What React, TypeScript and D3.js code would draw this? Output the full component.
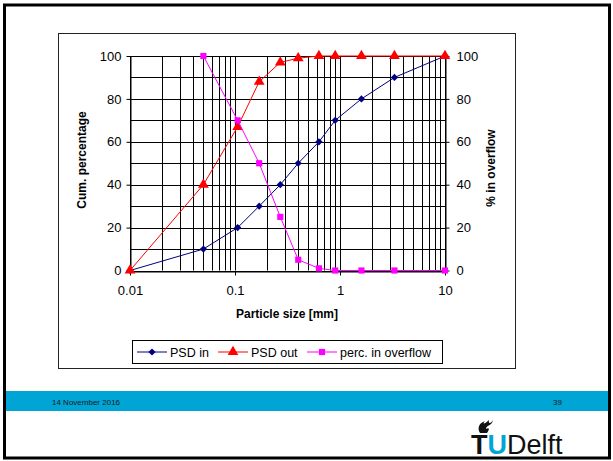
import * as d3 from 'd3';
import React, { useEffect, useRef } from 'react';

// Particle sizes [mm] and the three measured series
const sizes = [0.01, 0.05, 0.106, 0.17, 0.27, 0.4, 0.63, 0.9, 1.6, 3.3, 10];
const psdIn = [0, 10, 20, 30, 40, 50, 60, 70, 80, 90, 100];
const psdOut = [0, 40, 67, 88, 97, 99, 100, 100, 100, 100, 100];
const overflow: (number | null)[] = [null, 100, 70, 50, 25, 5, 1, 0, 0, 0, 0];

const xTicks = [0.01, 0.1, 1, 10];
const yTicks = [0, 20, 40, 60, 80, 100];

const seriesNames = ['PSD in', 'PSD out', 'perc. in overflow'];

const FONT = 'Liberation Sans, Arial, sans-serif';

const App: React.FC = () => {
  const ref = useRef<SVGSVGElement>(null);

  useEffect(() => {
    if (!ref.current) return;
    const root = d3.select(ref.current);
    root.selectAll('*').remove();

    // slide frame
    root.append('rect')
      .attr('x', 4.5).attr('y', 5).attr('width', 605).attr('height', 453)
      .attr('fill', 'white').attr('stroke', '#000').attr('stroke-width', 3);

    // chart area frame
    root.append('rect')
      .attr('x', 58.5).attr('y', 33.5).attr('width', 457).attr('height', 335)
      .attr('fill', 'white').attr('stroke', '#222').attr('stroke-width', 1);

    // footer band
    root.append('rect')
      .attr('x', 6).attr('y', 391).attr('width', 602).attr('height', 20)
      .attr('fill', '#00a5d5');
    root.append('text')
      .attr('x', 52).attr('y', 404.5)
      .style('font', `8px ${FONT}`).attr('fill', '#1a1a1a')
      .text('14 November 2016');
    root.append('text')
      .attr('x', 562).attr('y', 404.5).attr('text-anchor', 'end')
      .style('font', `8px ${FONT}`).attr('fill', '#1a1a1a')
      .text('39');

    // logo
    const logo = root.append('text')
      .attr('x', 471).attr('y', 454)
      .style('font-family', FONT).style('font-size', '27px');
    logo.append('tspan').attr('font-weight', 'bold').attr('fill', '#111').text('T');
    logo.append('tspan').attr('font-weight', 'bold').attr('fill', '#00a6d6').text('U');
    logo.append('tspan').attr('fill', '#111').text('Delft');
    root.append('path')
      .attr('d', 'M480,433 C477,428 479,423 485,421 C482,424 484,425 489,420 C488,424 491,424 493,420 C492,426 486,425 486,429 C489,427 490,429 487,433 Z')
      .attr('fill', '#111');

    // plot
    const x = d3.scaleLog().domain([0.01, 10]).range([130, 445]);
    const y = d3.scaleLinear().domain([0, 100]).range([270.5, 56]);

    const g = root.append('g');

    // grid: every log tick vertically, every 10% horizontally
    const vTicks = x.ticks();
    g.selectAll('.vgrid').data(vTicks).enter().append('line')
      .attr('x1', d => Math.round(x(d)) + 0.5).attr('x2', d => Math.round(x(d)) + 0.5)
      .attr('y1', y(0)).attr('y2', y(100))
      .attr('stroke', '#000').attr('stroke-width', 1);
    g.selectAll('.hgrid').data(d3.range(0, 101, 10)).enter().append('line')
      .attr('x1', x(0.01)).attr('x2', x(10))
      .attr('y1', d => Math.round(y(d)) + 0.5).attr('y2', d => Math.round(y(d)) + 0.5)
      .attr('stroke', '#000').attr('stroke-width', 1);

    const styleAxis = (sel: d3.Selection<SVGGElement, unknown, null, undefined>) => {
      sel.selectAll('text').style('fill', '#000').style('font', `13px ${FONT}`);
      sel.selectAll('line').attr('stroke', '#000');
      sel.select('.domain').attr('stroke', '#000');
    };

    g.append('g')
      .attr('transform', `translate(0,${Math.round(y(0)) + 0.5})`)
      .call(d3.axisBottom(x).tickValues(xTicks).tickFormat(d => `${d}`).tickSize(4).tickSizeOuter(0).tickPadding(10))
      .call(styleAxis);

    g.append('g')
      .attr('transform', `translate(${Math.round(x(0.01)) + 0.5},0)`)
      .call(d3.axisLeft(y).tickValues(yTicks).tickSize(4).tickSizeOuter(0).tickPadding(5))
      .call(styleAxis);

    g.append('g')
      .attr('transform', `translate(${Math.round(x(10)) + 0.5},0)`)
      .call(d3.axisRight(y).tickValues(yTicks).tickSize(4).tickSizeOuter(0).tickPadding(7))
      .call(styleAxis);

    // axis titles
    g.append('text')
      .attr('x', 287).attr('y', 318).attr('text-anchor', 'middle')
      .style('font', `bold 12px ${FONT}`).text('Particle size [mm]');
    g.append('text')
      .attr('transform', 'translate(86,160) rotate(-90)').attr('text-anchor', 'middle')
      .style('font', `bold 12px ${FONT}`).text('Cum. percentage');
    g.append('text')
      .attr('transform', 'translate(495,168) rotate(-90)').attr('text-anchor', 'middle')
      .style('font', `bold 12px ${FONT}`).text('% in overflow');

    // series (diamond = square turned 45 degrees)
    const series = [
      { values: psdIn as (number | null)[], color: '#000080', symbol: d3.symbolSquare, size: 26, rot: 45 },
      { values: psdOut as (number | null)[], color: '#ff0000', symbol: d3.symbolTriangle, size: 50, rot: 0 },
      { values: overflow, color: '#ff00ff', symbol: d3.symbolSquare, size: 38, rot: 0 },
    ];

    series.forEach(s => {
      const pts = sizes
        .map((sz, i) => ({ sz, v: s.values[i] }))
        .filter(p => p.v !== null) as { sz: number; v: number }[];
      const line = d3.line<{ sz: number; v: number }>().x(p => x(p.sz)).y(p => y(p.v));
      g.append('path').attr('d', line(pts)).attr('fill', 'none')
        .attr('stroke', s.color).attr('stroke-width', 1);
      g.selectAll(null).data(pts).enter().append('path')
        .attr('d', d3.symbol().type(s.symbol).size(s.size)())
        .attr('transform', p => `translate(${x(p.sz)},${y(p.v)}) rotate(${s.rot})`)
        .attr('fill', s.color);
    });

    // legend
    const lg = g.append('g');
    lg.append('rect')
      .attr('x', 132.5).attr('y', 340.5).attr('width', 310).attr('height', 23)
      .attr('fill', 'white').attr('stroke', '#000').attr('stroke-width', 1);
    const legendX = [137, 218, 307];
    series.forEach((s, i) => {
      const lx = legendX[i];
      lg.append('line').attr('x1', lx).attr('x2', lx + 30).attr('y1', 352).attr('y2', 352)
        .attr('stroke', s.color).attr('stroke-width', 1);
      lg.append('path').attr('d', d3.symbol().type(s.symbol).size(s.size)())
        .attr('transform', `translate(${lx + 15},352) rotate(${s.rot})`).attr('fill', s.color);
      lg.append('text').attr('x', lx + 33).attr('y', 356.5)
        .style('font', `12.5px ${FONT}`).text(seriesNames[i]);
    });
  }, []);

  return (
    <svg ref={ref} width={613} height={461}
      style={{ position: 'absolute', left: 0, top: 0, display: 'block', background: 'white' }} />
  );
};

export default App;
